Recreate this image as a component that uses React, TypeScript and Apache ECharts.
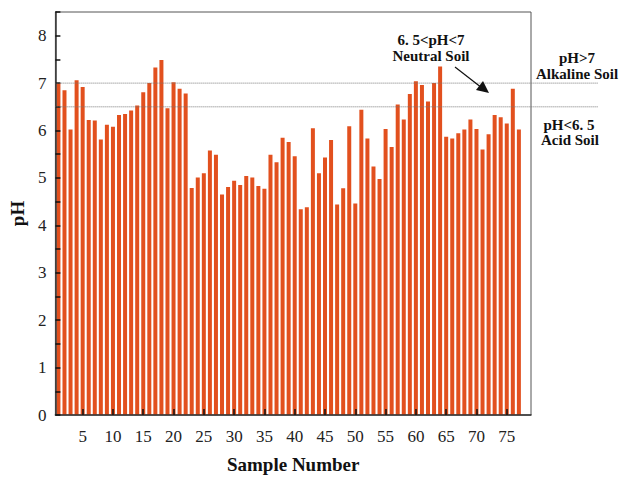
import React, { useEffect, useRef } from "react";
import * as echarts from "echarts";

const sampleNumbers: number[] = Array.from({ length: 77 }, (_, i) => i + 1);
const phValues: number[] = [
  7.0, 6.85, 6.02, 7.06, 6.92, 6.22, 6.21, 5.81, 6.12, 6.08,
  6.33, 6.35, 6.42, 6.53, 6.81, 7.0, 7.33, 7.49, 6.47, 7.02,
  6.88, 6.78, 4.79, 5.01, 5.1, 5.58, 5.49, 4.65, 4.81, 4.94,
  4.85, 5.04, 5.01, 4.83, 4.77, 5.49, 5.33, 5.85, 5.76, 5.46,
  4.34, 4.38, 6.05, 5.1, 5.43, 5.8, 4.44, 4.78, 6.09, 4.46,
  6.44, 5.83, 5.24, 4.98, 6.03, 5.65, 6.55, 6.23, 6.77, 7.04,
  6.96, 6.61, 7.0, 7.35, 5.87, 5.83, 5.94, 6.02, 6.23, 6.03,
  5.6, 5.92, 6.33, 6.28, 6.15, 6.88, 6.02,
];
const xTickValues: number[] = [5, 10, 15, 20, 25, 30, 35, 40, 45, 50, 55, 60, 65, 70, 75];
const thresholds: number[] = [7, 6.5];

const FONT = "Liberation Serif";

export default function App() {
  const ref = useRef<HTMLDivElement>(null);
  useEffect(() => {
    document.body.style.margin = "0";
    if (!ref.current) return;
    const chart = echarts.init(ref.current, null, { renderer: "svg" });
    const option: any = {
      animation: false,
      backgroundColor: "#ffffff",
      textStyle: { fontFamily: FONT },
      grid: {
        left: 55,
        top: 12,
        right: 90,
        bottom: 60,
        show: true,
        borderColor: "#555",
        borderWidth: 1,
        backgroundColor: "transparent",
      },
      xAxis: {
        type: "value",
        min: 0.5,
        max: 79,
        z: 5,
        name: "Sample Number",
        nameLocation: "middle",
        nameGap: 40,
        nameTextStyle: { fontFamily: FONT, fontWeight: "bold", fontSize: 19, color: "#111" },
        splitLine: { show: false },
        axisLine: { show: true, lineStyle: { color: "#333", width: 1.5 } },
        axisTick: {
          show: true,
          inside: true,
          length: 6,
          customValues: xTickValues,
          lineStyle: { color: "#111", width: 1.5 },
        },
        axisLabel: {
          customValues: xTickValues,
          fontFamily: FONT,
          fontSize: 17,
          color: "#222",
          margin: 13,
        },
      },
      yAxis: {
        type: "value",
        min: 0,
        max: 8.5,
        interval: 0.5,
        z: 5,
        name: "pH",
        nameLocation: "middle",
        nameGap: 26,
        nameRotate: 90,
        nameTextStyle: { fontFamily: FONT, fontWeight: "bold", fontSize: 19, color: "#111" },
        splitLine: { show: false },
        axisLine: { show: true, lineStyle: { color: "#333", width: 1.5 } },
        axisTick: { show: true, inside: true, length: 5, lineStyle: { color: "#111", width: 1.5 } },
        axisLabel: {
          fontFamily: FONT,
          fontSize: 17,
          color: "#222",
          margin: 9,
          formatter: (v: number) => (Number.isInteger(v) && v <= 8 ? String(v) : ""),
        },
      },
      series: [
        {
          type: "bar",
          data: sampleNumbers.map((n, i) => [n, phValues[i]]),
          barWidth: 4,
          itemStyle: { color: "#E2501E" },
          z: 2,
        },
      ],
    };
    chart.setOption(option);

    const left = chart.convertToPixel({ gridIndex: 0 }, [0.5, 0])[0];
    const right = chart.convertToPixel({ gridIndex: 0 }, [79, 0])[0];
    const lineGraphics = thresholds.map((t) => {
      const y = chart.convertToPixel({ gridIndex: 0 }, [1, t])[1];
      return {
        type: "line",
        shape: { x1: left, y1: y, x2: right + 67, y2: y },
        style: { stroke: "#777", lineWidth: 1, lineDash: [1, 1] },
        z: 10,
      };
    });
    const textStyle = (text: string, x: number, y: number) => ({
      type: "text",
      x,
      y,
      style: {
        text,
        fontFamily: FONT,
        fontWeight: "bold",
        fontSize: 15,
        fill: "#111",
        align: "center",
        verticalAlign: "middle",
      },
      z: 20,
    });
    chart.setOption({
      graphic: [
        ...lineGraphics,
        textStyle("6. 5<pH<7", 431, 40),
        textStyle("Neutral Soil", 431, 56),
        textStyle("pH>7", 577, 58),
        textStyle("Alkaline Soil", 577, 74),
        textStyle("pH<6. 5", 569, 125),
        textStyle("Acid Soil", 570, 140),
        {
          type: "line",
          shape: { x1: 455, y1: 67, x2: 482, y2: 88 },
          style: { stroke: "#111", lineWidth: 1.2 },
          z: 20,
        },
        {
          type: "polygon",
          shape: { points: [[489, 93], [476, 90], [483, 81]] },
          style: { fill: "#111" },
          z: 20,
        },
      ],
    });
    return () => chart.dispose();
  }, []);
  return <div ref={ref} style={{ width: 621, height: 479 }} />;
}
